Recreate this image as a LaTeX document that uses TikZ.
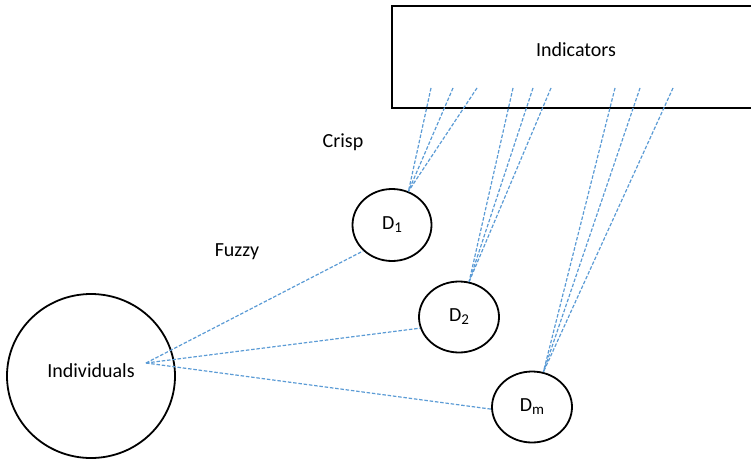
\documentclass[tikz,border=0pt]{standalone}
\usepackage{fontspec}
\setmainfont{Carlito}
\usetikzlibrary{shapes.geometric}
\newcommand{\subidx}[1]{{\fontsize{15}{15}\selectfont\raisebox{-3pt}{#1}}}
\begin{document}
\begin{tikzpicture}[x=1pt,y=-1pt,
  every node/.style={font=\fontsize{20}{24}\selectfont},
  oval/.style={draw=black, line width=1.8pt, ellipse, inner sep=0pt},
  link/.style={draw={rgb,255:red,91;green,155;blue,213}, line width=1.2pt, dash pattern=on 3.5pt off 1.8pt}]
\useasboundingbox (0,0) rectangle (751,460);
% indicator block, running off the right edge
\draw[line width=1.8pt] (760,6) -- (392,6) -- (392,108) -- (760,108);
\node (ind) at (576,50) {Indicators};
% dimension nodes
\node[oval, minimum width=79pt, minimum height=72pt] (d1) at (392,225) {D\subidx{1}};
\node[oval, minimum width=80pt, minimum height=71pt] (d2) at (459,317) {D\subidx{2}};
\node[oval, minimum width=80pt, minimum height=71pt] (dm) at (532,407) {D\subidx{m}};
\node[oval, minimum width=168pt, minimum height=164pt] (indiv) at (91,376) {};
\node at (91,371) {Individuals};
\node (crisp) at (343,142) {Crisp};
\node (fuzzy) at (237,252) {Fuzzy};
% starting points inside the indicator block
\coordinate (a1) at (431,88); \coordinate (a2) at (453,88); \coordinate (a3) at (477,88);
\coordinate (b1) at (513,88); \coordinate (b2) at (533,88); \coordinate (b3) at (551,88);
\coordinate (c1) at (615,88); \coordinate (c2) at (640,88); \coordinate (c3) at (673,88);
\coordinate (hub) at (146,363);
% crisp links
\foreach \p in {a1,a2,a3} \draw[link] (\p) -- (d1.64);
\foreach \p in {b1,b2,b3} \draw[link] (\p) -- (d2.74);
\foreach \p in {c1,c2,c3} \draw[link] (\p) -- (dm.72);
% fuzzy links
\draw[link] (hub) -- (d1.222);
\draw[link] (hub) -- (d2.196);
\draw[link] (hub) -- (dm.183);
\end{tikzpicture}
\end{document}
